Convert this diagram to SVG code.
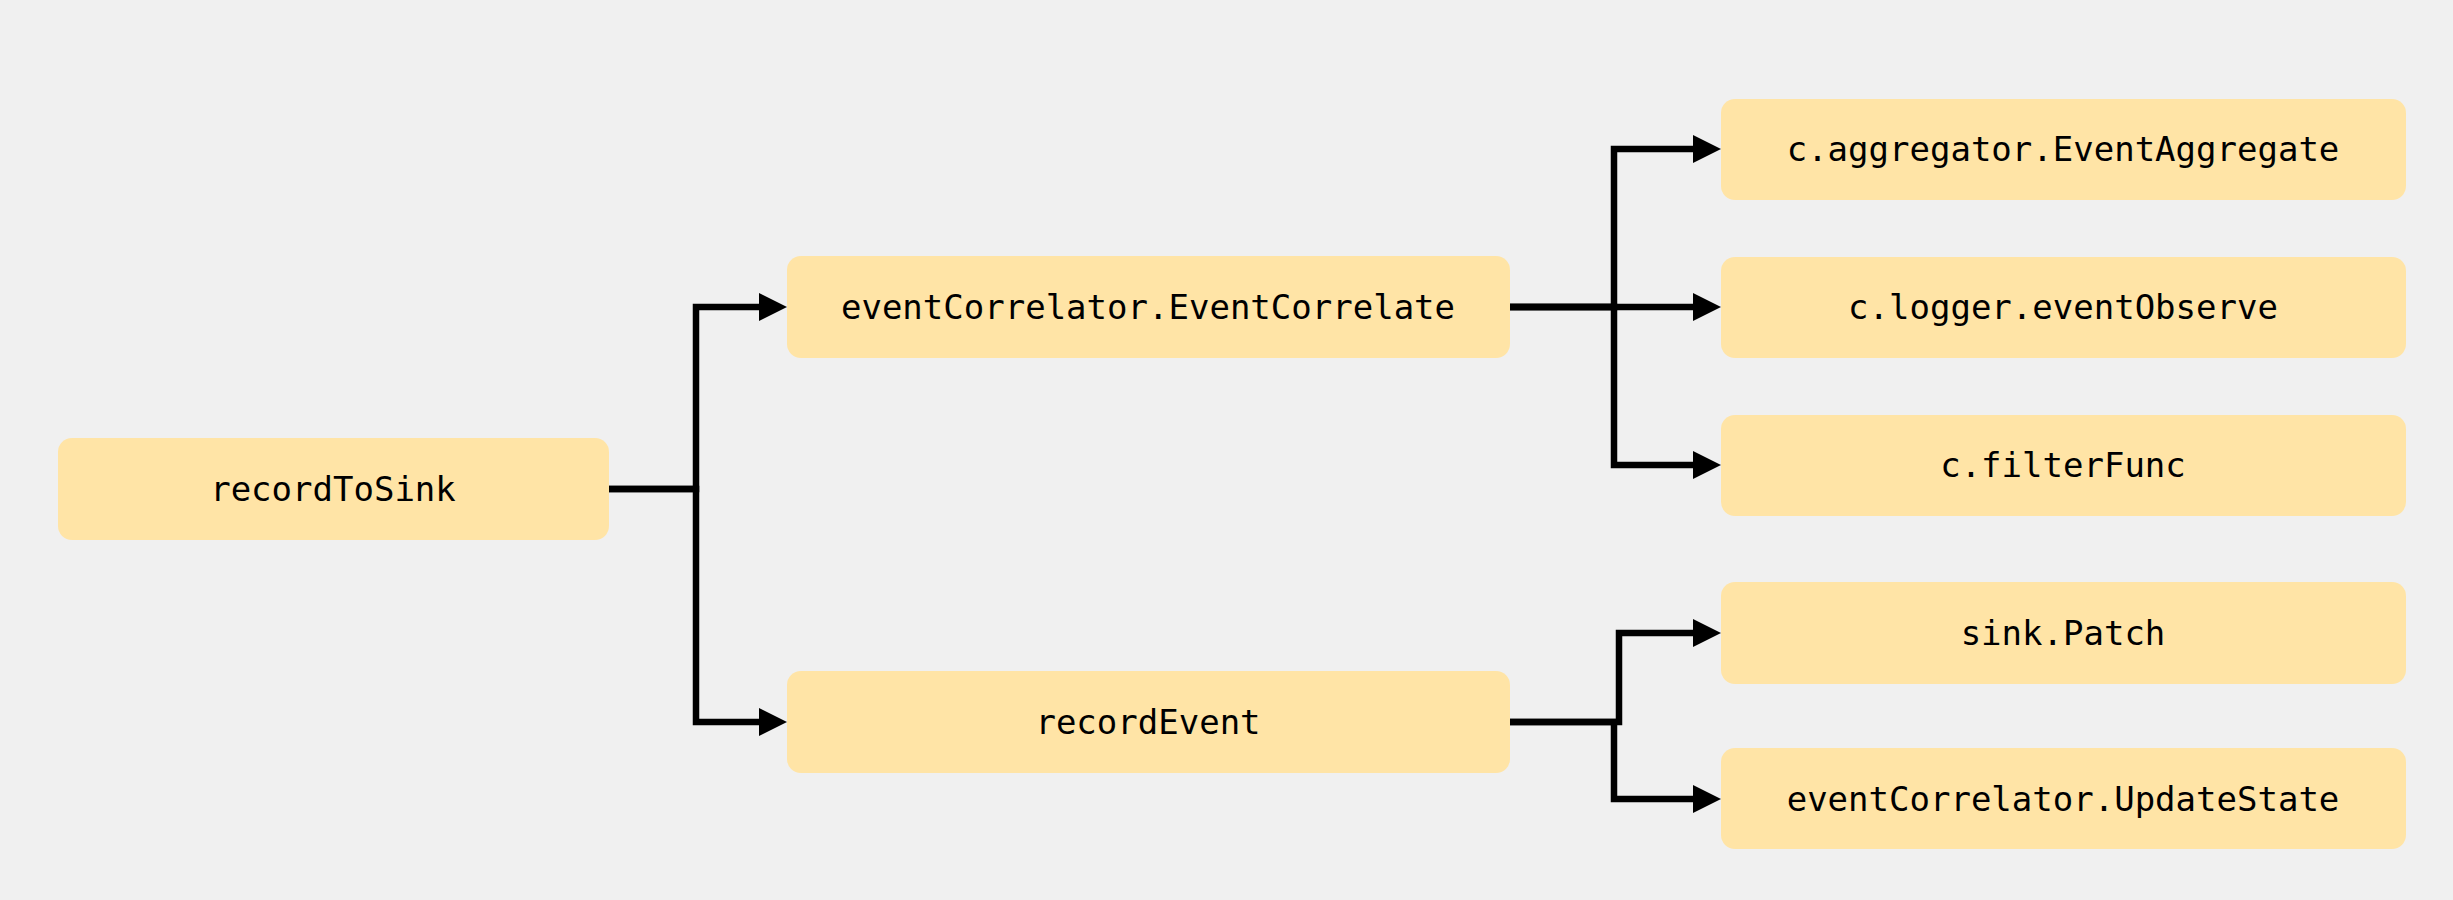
<svg xmlns="http://www.w3.org/2000/svg" width="2453" height="900" viewBox="0 0 2453 900">
<style>
.node rect{fill:#FFE4A6;}
.node text{font-family:"DejaVu Sans Mono","Liberation Mono",monospace;font-size:34px;fill:#000;text-anchor:middle;}
.edge{fill:none;stroke:#000;stroke-width:6.5;stroke-linejoin:miter;marker-end:url(#arrow);}
</style>
<defs>
<marker id="arrow" viewBox="0 0 28 28" markerWidth="28" markerHeight="28" markerUnits="userSpaceOnUse" refX="0" refY="14" orient="auto">
<path d="M0,0 L28,14 L0,28 Z" fill="#000"/>
</marker>
</defs>
<rect width="2453" height="900" fill="#F0F0F0"/>
<g id="connectors">
<path class="edge" d="M609,489 H696 V307 H759"/>
<path class="edge" d="M609,489 H696 V722 H759"/>
<path class="edge" d="M1510,307 H1614 V149 H1693"/>
<path class="edge" d="M1510,307 H1693"/>
<path class="edge" d="M1510,307 H1614 V465 H1693"/>
<path class="edge" d="M1510,722 H1619 V633 H1693"/>
<path class="edge" d="M1510,722 H1614 V799 H1693"/>
</g>
<g id="recordToSink" class="node"><rect x="58" y="438" width="551" height="102" rx="14"/><text x="333" y="501">recordToSink</text></g>
<g id="eventCorrelate" class="node"><rect x="787" y="256" width="723" height="102" rx="14"/><text x="1148" y="319">eventCorrelator.EventCorrelate</text></g>
<g id="recordEvent" class="node"><rect x="787" y="671" width="723" height="102" rx="14"/><text x="1148" y="734">recordEvent</text></g>
<g id="eventAggregate" class="node"><rect x="1721" y="99" width="685" height="101" rx="14"/><text x="2063" y="161">c.aggregator.EventAggregate</text></g>
<g id="eventObserve" class="node"><rect x="1721" y="257" width="685" height="101" rx="14"/><text x="2063" y="319">c.logger.eventObserve</text></g>
<g id="filterFunc" class="node"><rect x="1721" y="415" width="685" height="101" rx="14"/><text x="2063" y="477">c.filterFunc</text></g>
<g id="sinkPatch" class="node"><rect x="1721" y="582" width="685" height="102" rx="14"/><text x="2063" y="645">sink.Patch</text></g>
<g id="updateState" class="node"><rect x="1721" y="748" width="685" height="101" rx="14"/><text x="2063" y="811">eventCorrelator.UpdateState</text></g>
</svg>
